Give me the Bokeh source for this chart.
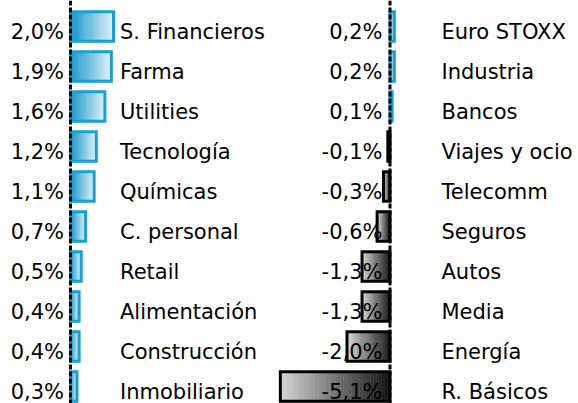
import numpy as np
from bokeh.plotting import figure
from bokeh.layouts import row
from bokeh.models import Range1d, Span
from bokeh.core.properties import value
from bokeh.embed import file_html
from bokeh.resources import INLINE

# ---- data ----
left_cats = ["S. Financieros", "Farma", "Utilities", "Tecnología", "Químicas",
             "C. personal", "Retail", "Alimentación", "Construcción", "Inmobiliario"]
left_vals = [2.0, 1.9, 1.6, 1.2, 1.1, 0.7, 0.5, 0.4, 0.4, 0.3]

right_cats = ["Euro STOXX", "Industria", "Bancos", "Viajes y ocio", "Telecomm",
              "Seguros", "Autos", "Media", "Energía", "R. Básicos"]
right_vals = [0.2, 0.2, 0.1, -0.1, -0.3, -0.6, -1.3, -1.3, -2.0, -5.1]

# ---- style ----
FONT = "DejaVu Sans"
FS = "21px"
BAR_H = 0.74
N_STRIPS = 40
H = 403
BLUE_DARK, BLUE_LIGHT, BLUE_LINE = (15, 147, 199), (224, 241, 248), "#17a0d3"
GREY_DARK, GREY_LIGHT, GREY_LINE = (18, 18, 18), (214, 214, 214), "#000000"


def mix(c0, c1, t):
    return "#%02x%02x%02x" % tuple(int(round(a + (b - a) * t)) for a, b in zip(c0, c1))


def fmt(v):
    return ("%.1f%%" % v).replace(".", ",")


def make_panel(cats, vals, width, x0, x1, pct_dx, cat_dx):
    p = figure(width=width, height=H, x_range=Range1d(x0, x1),
               y_range=Range1d(9.425, -0.65), output_backend="svg",
               toolbar_location=None, x_axis_location=None, y_axis_location=None,
               min_border=0, min_border_left=0, min_border_right=0,
               min_border_top=0, min_border_bottom=0)
    p.grid.visible = False
    p.outline_line_color = None
    p.background_fill_color = "white"
    p.border_fill_color = "white"

    rows = np.arange(len(vals), dtype=float)
    vals = np.asarray(vals, dtype=float)

    # gradient strips (dark at zero, light at the tip)
    L, R, T, B, C = [], [], [], [], []
    for r, v in zip(rows, vals):
        dark, light = (BLUE_DARK, BLUE_LIGHT) if v >= 0 else (GREY_DARK, GREY_LIGHT)
        for i in range(N_STRIPS):
            a, b = v * i / N_STRIPS, v * (i + 1) / N_STRIPS
            L.append(min(a, b)); R.append(max(a, b))
            T.append(r - BAR_H / 2); B.append(r + BAR_H / 2)
            C.append(mix(dark, light, (i + 0.5) / N_STRIPS))
    p.quad(left=L, right=R, top=T, bottom=B, fill_color=C, line_color=C, line_width=0.6)

    # outlines
    p.quad(left=np.minimum(0, vals), right=np.maximum(0, vals),
           top=rows - BAR_H / 2, bottom=rows + BAR_H / 2,
           fill_color=None, line_color=[BLUE_LINE if v >= 0 else GREY_LINE for v in vals],
           line_width=3, line_join="miter")

    # percent labels
    p.text(x=np.zeros(len(vals)), y=rows, text=[fmt(v) for v in vals],
           text_align="right", text_baseline="alphabetic", x_offset=pct_dx, y_offset=5,
           text_font=value(FONT), text_font_size=FS, text_color="black")
    # category labels
    p.text(x=np.zeros(len(vals)), y=rows, text=cats,
           text_align="left", text_baseline="alphabetic", x_offset=cat_dx, y_offset=5,
           text_font=value(FONT), text_font_size=FS, text_color="black")

    # dashed zero line
    p.add_layout(Span(location=0, dimension="height", line_color="black",
                      line_width=3, line_dash="5 2"))
    return p


SCALE = 21.5  # px per percentage point
W1, W2 = 276, 302
z1, z2 = 70.0, 113.5  # zero line position inside each panel (px)
p1 = make_panel(left_cats, left_vals, W1, -z1 / SCALE, (W1 - z1) / SCALE, -6.5, 49.5)
p2 = make_panel(right_cats, right_vals, W2, -z2 / SCALE, (W2 - z2) / SCALE, -7.5, 51.5)

layout = row(p1, p2)
open("out.html", "w").write(file_html(layout, INLINE))
